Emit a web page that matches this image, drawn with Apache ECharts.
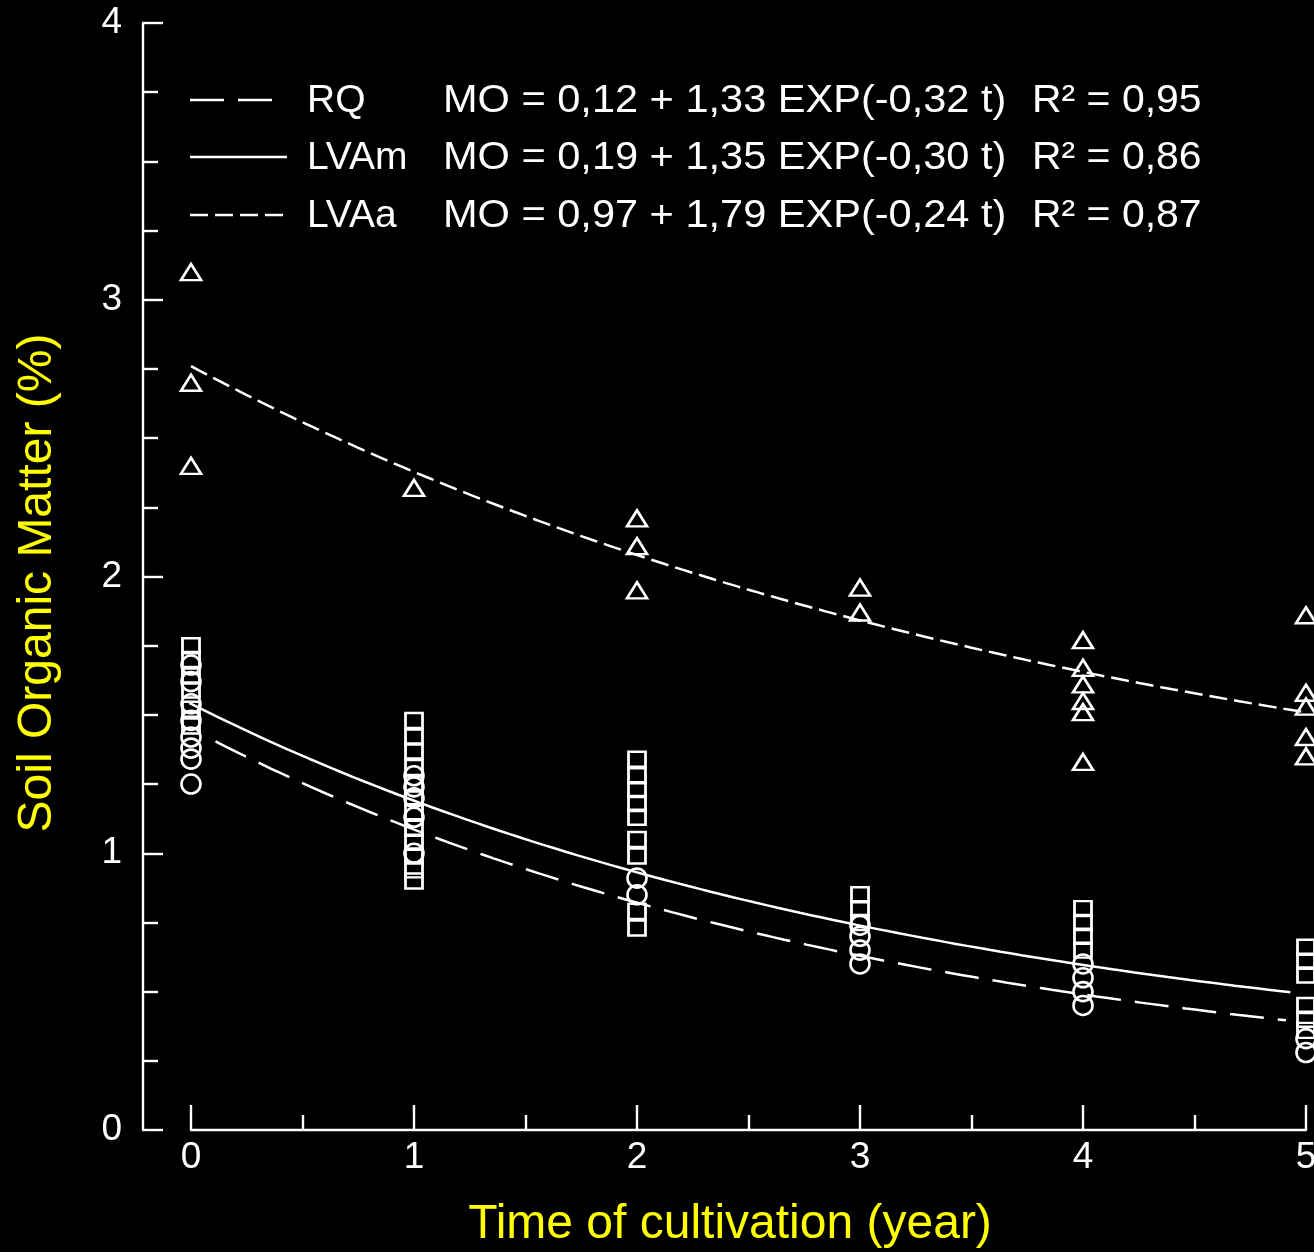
<!DOCTYPE html>
<html>
<head>
<meta charset="utf-8">
<title>Soil organic matter vs time of cultivation</title>
<script src="https://cdn.jsdelivr.net/npm/echarts@6/dist/echarts.min.js"></script>
<style>
  html, body { margin: 0; padding: 0; background: #000; }
  #chart { width: 1314px; height: 1252px; }
</style>
</head>
<body>
<div id="chart"></div>
<script>
// ---- data ----
const years = [0, 1, 2, 3, 4, 5];
const yTicks = [0, 1, 2, 3, 4];
const xTicks = [0, 1, 2, 3, 4, 5];

const soilClasses = ['RQ', 'LVAm', 'LVAa'];
// fitted model: MO = a + b * EXP(-k t)
const fitA = [0.12, 0.19, 0.97];
const fitB = [1.33, 1.35, 1.79];
const fitK = [0.32, 0.30, 0.24];
const fitR2 = [0.95, 0.86, 0.87];
const fitFrom = [0.11, -0.07, 0.0];
const fitTo = [4.93, 4.95, 5.0];

// observations per year (index matches `years`)
const rqObs = [
  [1.68, 1.62, 1.54, 1.48, 1.42, 1.38, 1.34, 1.25],
  [1.28, 1.24, 1.20, 1.13, 1.00],
  [0.91, 0.85],
  [0.74, 0.70, 0.65, 0.60],
  [0.60, 0.55, 0.50, 0.45],
  [0.33, 0.28]
];
const lvamObs = [
  [1.75, 1.70, 1.64, 1.59, 1.52, 1.46],
  [1.48, 1.42, 1.37, 1.31, 1.25, 1.20, 1.15, 1.09, 1.04, 0.99, 0.94, 0.90],
  [1.34, 1.28, 1.23, 1.18, 1.13, 1.05, 0.99, 0.79, 0.73],
  [0.85, 0.80, 0.75],
  [0.80, 0.75, 0.70, 0.65],
  [0.66, 0.61, 0.56, 0.45, 0.40, 0.36]
];
const lvaaObs = [
  [3.10, 2.70, 2.40],
  [2.32],
  [2.21, 2.11, 1.95],
  [1.96, 1.87],
  [1.77, 1.67, 1.61, 1.55, 1.51, 1.33],
  [1.86, 1.58, 1.53, 1.42, 1.35]
];

const xTitle = 'Time of cultivation (year)';
const yTitle = 'Soil Organic Matter (%)';

// ---- styling ----
const FONT = '"Liberation Sans", Arial, Helvetica, sans-serif';
const INK = '#ffffff';
const YELLOW = '#ffff00';
const lineDashes = [[34, 14], 'solid', [18, 7]];
const markerShapes = ['circle', 'rect', 'triangle'];
const markerSizes = [[19, 19], [17, 15], [20, 16]];

function toPairs(byYear) {
  const out = [];
  byYear.forEach((vals, i) => vals.forEach(v => out.push([years[i], v])));
  return out;
}
function fitCurve(i) {
  const pts = [];
  const step = 0.05;
  for (let t = fitFrom[i]; t <= fitTo[i] + 1e-9; t += step) {
    pts.push([t, fitA[i] + fitB[i] * Math.exp(-fitK[i] * t)]);
  }
  return pts;
}
const comma = v => v.toFixed(2).replace('.', ',');

const obsSets = [rqObs, lvamObs, lvaaObs];

const series = [];
soilClasses.forEach((name, i) => {
  series.push({
    name: name + ' fit',
    type: 'line',
    data: fitCurve(i),
    showSymbol: false,
    symbol: 'none',
    clip: false,
    smooth: false,
    lineStyle: { color: INK, width: 2.5, type: lineDashes[i], opacity: 1 },
    z: 3
  });
});
soilClasses.forEach((name, i) => {
  series.push({
    name: name,
    type: 'scatter',
    data: toPairs(obsSets[i]),
    symbol: markerShapes[i],
    symbolSize: markerSizes[i],
    clip: false,
    itemStyle: { color: 'rgba(0,0,0,0)', borderColor: INK, borderWidth: 2.6, opacity: 1 },
    z: 4
  });
});

// legend block drawn as graphic rows
const legendRowsY = [100, 157, 215];
const legendLineEnd = [273, 287, 286];
const legendGraphics = [];
soilClasses.forEach((name, i) => {
  const y = legendRowsY[i];
  const dash = lineDashes[i] === 'solid' ? null : lineDashes[i];
  legendGraphics.push({
    type: 'line',
    shape: { x1: 190, y1: y, x2: legendLineEnd[i], y2: y },
    style: { stroke: INK, lineWidth: 2.5, lineDash: dash }
  });
  legendGraphics.push({
    type: 'text', x: 307, y: y + 1,
    style: { text: name, fill: INK, font: '39px ' + FONT, verticalAlign: 'middle' }
  });
  legendGraphics.push({
    type: 'text', x: 443, y: y + 1, scaleX: 1.065,
    style: {
      text: 'MO = ' + comma(fitA[i]) + ' + ' + comma(fitB[i]) + ' EXP(-' + comma(fitK[i]) + ' t)',
      fill: INK, font: '39px ' + FONT, verticalAlign: 'middle'
    }
  });
  legendGraphics.push({
    type: 'text', x: 1032, y: y + 1, scaleX: 1.05,
    style: { text: 'R\u00B2 = ' + comma(fitR2[i]), fill: INK, font: '39px ' + FONT, verticalAlign: 'middle' }
  });
});

const chart = echarts.init(document.getElementById('chart'), null, { renderer: 'canvas' });

const axisLineStyle = { color: INK, width: 2.4 };

chart.setOption({
  backgroundColor: '#000',
  animation: false,
  grid: {
    left: 191, right: 8, top: 23, bottom: 122,
    containLabel: false,
    outerBoundsMode: 'none'
  },
  xAxis: {
    type: 'value',
    min: xTicks[0], max: xTicks[xTicks.length - 1], interval: 1,
    axisLine: { show: true, onZero: false, lineStyle: axisLineStyle },
    axisTick: { show: true, inside: true, length: 25, lineStyle: axisLineStyle },
    minorTick: { show: true, splitNumber: 2, length: 15, lineStyle: axisLineStyle },
    axisLabel: {
      color: INK, fontSize: 37, fontFamily: FONT, margin: 9,
      showMinLabel: true, showMaxLabel: true, hideOverlap: false,
      formatter: v => (xTicks.indexOf(v) >= 0 ? String(v) : '')
    },
    splitLine: { show: false },
    minorSplitLine: { show: false }
  },
  yAxis: {
    type: 'value',
    min: yTicks[0], max: yTicks[yTicks.length - 1], interval: 1,
    offset: 48,
    axisLine: { show: true, onZero: false, lineStyle: axisLineStyle },
    axisTick: { show: true, inside: true, length: 20, lineStyle: axisLineStyle },
    minorTick: { show: true, splitNumber: 4, length: 15, lineStyle: axisLineStyle },
    axisLabel: {
      color: INK, fontSize: 37, fontFamily: FONT, margin: 21,
      showMinLabel: true, showMaxLabel: true, hideOverlap: false,
      formatter: v => (yTicks.indexOf(v) >= 0 ? String(v) : '')
    },
    splitLine: { show: false },
    minorSplitLine: { show: false }
  },
  graphic: [
    {
      type: 'text', x: 730, y: 1225,
      style: { text: xTitle, fill: YELLOW, font: '48px ' + FONT, align: 'center', verticalAlign: 'middle' }
    },
    {
      type: 'text', x: 38, y: 583, rotation: Math.PI / 2,
      style: { text: yTitle, fill: YELLOW, font: '48px ' + FONT, align: 'center', verticalAlign: 'middle' }
    }
  ].concat(legendGraphics),
  series: series
});
</script>
</body>
</html>
